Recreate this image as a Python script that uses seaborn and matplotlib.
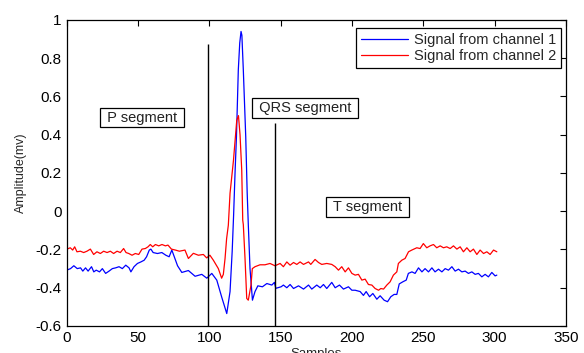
import seaborn as sns
import matplotlib.pyplot as plt
import pandas as pd

# channel 1 (blue)
ch1_x = [0, 2.7, 5, 7.4, 9.7, 11.3, 13.2, 15, 17.4, 19, 20.7, 23, 25, 27.3, 29.7, 32, 34.3, 36.7,
         39, 41.4, 43.7, 45, 47.2, 49.6, 52, 54.3, 56, 57.9, 59, 60.6, 63.6, 66.7, 69.5, 71.8,
         73.7, 75.4, 77.7, 80.7, 85.3, 90, 94.7, 98.2, 101.7, 105.2, 108.7, 112.2, 114.5, 116,
         117, 118, 119, 120.3, 121.3, 122.2, 122.8, 123.8, 124.7, 125.5, 126.5, 127.3, 128.5,
         130.2, 132, 134, 137.2, 140.3, 143.8, 145.6, 146.6, 150.3, 151.9, 154.3, 156.6, 159,
         162.5, 166, 169.5, 171.8, 175.3, 177.7, 180, 182.3, 185.8, 188.2, 191.2, 194, 197.5,
         199.9, 202.2, 205.7, 208, 209.9, 212.3, 214.6, 217.4, 219.7, 222.5, 224.9, 227.2,
         229.5, 231.4, 233.1, 235.6, 238, 239.5, 242, 244.2, 246.6, 249, 251.2, 253.6, 256,
         258.2, 260.6, 263, 265.3, 267.6, 270, 272.3, 274.6, 277, 279.3, 281.6, 284, 286.3,
         288.6, 291, 293.3, 295.6, 298, 300.3, 301.5]
ch1_y = [-0.308, -0.30, -0.285, -0.30, -0.296, -0.313, -0.296, -0.313, -0.29, -0.317, -0.308,
         -0.317, -0.30, -0.325, -0.313, -0.30, -0.296, -0.29, -0.30, -0.282, -0.296, -0.317,
         -0.29, -0.273, -0.265, -0.256, -0.238, -0.203, -0.198, -0.216, -0.221, -0.216, -0.23,
         -0.238, -0.203, -0.238, -0.285, -0.32, -0.31, -0.34, -0.33, -0.35, -0.325, -0.36,
         -0.45, -0.535, -0.42, -0.21, -0.02, 0.2, 0.39, 0.74, 0.88, 0.94, 0.92, 0.74, 0.56,
         0.39, 0.1, -0.07, -0.30, -0.465, -0.42, -0.39, -0.395, -0.378, -0.386, -0.372, -0.403,
         -0.395, -0.386, -0.40, -0.383, -0.404, -0.39, -0.407, -0.386, -0.407, -0.386, -0.40,
         -0.383, -0.404, -0.372, -0.40, -0.386, -0.407, -0.395, -0.413, -0.413, -0.42, -0.44,
         -0.42, -0.447, -0.43, -0.46, -0.442, -0.465, -0.473, -0.447, -0.435, -0.435, -0.38,
         -0.369, -0.36, -0.325, -0.317, -0.325, -0.296, -0.317, -0.30, -0.317, -0.296, -0.317,
         -0.303, -0.317, -0.30, -0.308, -0.29, -0.313, -0.303, -0.317, -0.313, -0.325, -0.317,
         -0.33, -0.325, -0.343, -0.33, -0.343, -0.32, -0.338, -0.334]

# channel 2 (red)
ch2_x = [0.2, 2.5, 4.2, 5.6, 7.2, 9.6, 11.9, 14.2, 16.6, 18.9, 21.2, 23.6, 25.9, 28.3, 30.6,
         32.9, 35.3, 37.6, 39.9, 41.6, 43.5, 45.8, 48.1, 50.5, 52.8, 55.1, 57, 58.6, 60.3,
         62.2, 64.5, 66.8, 69.2, 71, 73.4, 76.2, 79, 82.9, 85.3, 88.8, 92.3, 95.8, 98.1, 100.4,
         102.8, 106.3, 108.6, 109.8, 111, 112.1, 113.3, 114.5, 116.9, 119.2, 120.4, 121.5,
         122.7, 123.4, 123.8, 125, 126.2, 127.3, 129.2, 130.1, 132, 135.5, 139, 142.5, 146,
         149.6, 151.9, 154.3, 156.6, 159, 161.3, 163.6, 166, 169.5, 171.1, 174.1, 176.5, 178.8,
         182.3, 185.8, 188.2, 190.5, 192.8, 195.2, 197.5, 199.9, 202.2, 204.5, 206.9, 209.2,
         211.5, 213.9, 216.2, 218.6, 220.2, 222.1, 224.4, 226.7, 229, 231.4, 232.5, 234.9,
         237.2, 239.6, 241.9, 245.4, 247.7, 250, 252.4, 254.7, 257.1, 259.4, 261.8, 264.1,
         266.4, 268.8, 271.1, 273.5, 275.8, 278.1, 280.5, 282.8, 285.1, 287.5, 289.8, 292.2,
         294.5, 296.8, 299.2, 301.5]
ch2_y = [-0.198, -0.191, -0.203, -0.186, -0.212, -0.209, -0.216, -0.209, -0.198, -0.226, -0.212,
         -0.221, -0.209, -0.216, -0.209, -0.221, -0.209, -0.216, -0.195, -0.216, -0.221, -0.23,
         -0.221, -0.226, -0.198, -0.195, -0.186, -0.174, -0.186, -0.174, -0.181, -0.174, -0.181,
         -0.177, -0.198, -0.203, -0.209, -0.203, -0.247, -0.22, -0.23, -0.226, -0.244, -0.23,
         -0.256, -0.30, -0.35, -0.33, -0.247, -0.143, -0.073, 0.094, 0.266, 0.475, 0.50, 0.40,
         0.214, -0.047, -0.07, -0.247, -0.456, -0.465, -0.386, -0.30, -0.29, -0.28, -0.28,
         -0.273, -0.285, -0.273, -0.29, -0.265, -0.282, -0.268, -0.278, -0.265, -0.278, -0.265,
         -0.278, -0.252, -0.268, -0.278, -0.273, -0.278, -0.29, -0.308, -0.29, -0.317, -0.296,
         -0.325, -0.334, -0.33, -0.36, -0.355, -0.383, -0.386, -0.404, -0.413, -0.404, -0.407,
         -0.386, -0.369, -0.334, -0.317, -0.273, -0.256, -0.247, -0.212, -0.203, -0.191, -0.195,
         -0.169, -0.191, -0.181, -0.174, -0.191, -0.181, -0.191, -0.186, -0.195, -0.181, -0.198,
         -0.186, -0.212, -0.191, -0.212, -0.198, -0.226, -0.203, -0.221, -0.212, -0.226, -0.203,
         -0.212]

channel_names = ["Signal from channel 1", "Signal from channel 2"]
channel_colors = ["blue", "red"]

# segment markers
boundary_x = [99, 146]
boundary_top = [0.875, 0.46]
seg_labels = [" P segment ", " QRS segment ", " T segment "]
seg_x = [25.5, 132, 184]
seg_y = [0.49, 0.54, 0.023]

df = pd.concat([
    pd.DataFrame({"Samples": ch1_x, "Amplitude": ch1_y, "channel": channel_names[0]}),
    pd.DataFrame({"Samples": ch2_x, "Amplitude": ch2_y, "channel": channel_names[1]}),
])

sns.set_style("white")
plt.rcParams["font.family"] = ["Liberation Sans", "DejaVu Sans"]

fig = plt.figure(figsize=(5.84, 3.53), dpi=100)
ax = fig.add_axes([0.1142, 0.0765, 0.855, 0.8669])

sns.lineplot(data=df, x="Samples", y="Amplitude", hue="channel",
             palette=dict(zip(channel_names, channel_colors)), estimator=None,
             sort=False, linewidth=0.9, ax=ax)

ax.vlines(boundary_x, -0.6, boundary_top, color="black", linewidth=1)

for lab, xx, yy in zip(seg_labels, seg_x, seg_y):
    ax.text(xx, yy, lab, fontsize=10.5, ha="left", va="center", color="#222222",
            bbox=dict(boxstyle="square,pad=0.2", facecolor="white", edgecolor="black", linewidth=0.9))

ax.set_xlim(0, 350)
ax.set_ylim(-0.6, 1)
ax.set_xticks(range(0, 351, 50))
yt = [-0.6, -0.4, -0.2, 0, 0.2, 0.4, 0.6, 0.8, 1]
ax.set_yticks(yt)
ax.set_yticklabels(["-0.6", "-0.4", "-0.2", "0", "0.2", "0.4", "0.6", "0.8", "1"])
ax.tick_params(direction="in", top=True, right=True, length=4, width=0.8,
               labelsize=11, pad=3.5, colors="black")
ax.set_xlabel("Samples", fontsize=9.5, labelpad=2)
ax.set_ylabel("Amplitude(mv)", fontsize=9, labelpad=6)
for s in ax.spines.values():
    s.set_color("black")
    s.set_linewidth(0.9)

handles, labels = ax.get_legend_handles_labels()
ax.legend(handles, labels, loc="upper right", bbox_to_anchor=(0.99, 0.974),
          borderaxespad=0, fontsize=10.5, frameon=True, fancybox=False, framealpha=1,
          edgecolor="black", handlelength=3.2, handletextpad=0.4, labelspacing=0.15,
          borderpad=0.35)
ax.get_legend().get_frame().set_linewidth(0.9)

fig.savefig("out.png", dpi=100)
